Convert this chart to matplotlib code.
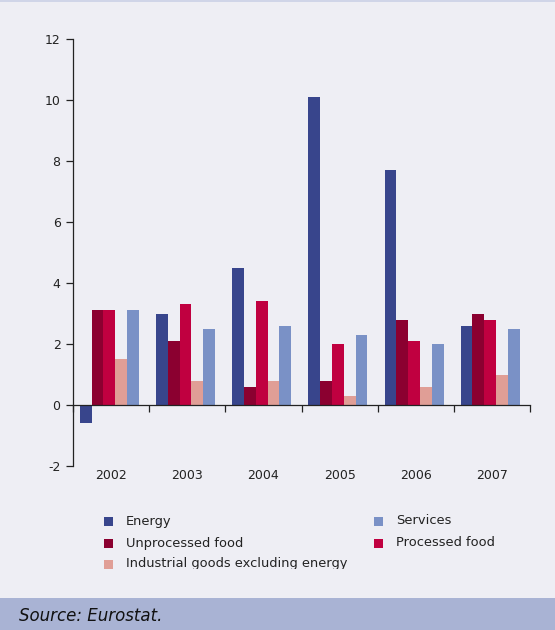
import numpy as np
import matplotlib
matplotlib.use('Agg')
import matplotlib.pyplot as plt
import matplotlib.patches as mpatches
import matplotlib.transforms as mtransforms

plt.rcParams['font.family'] = ['DejaVu Sans']

years = ['2002', '2003', '2004', '2005', '2006', '2007']
series = ['Energy', 'Unprocessed food', 'Processed food',
          'Industrial goods excluding energy', 'Services']
energy = [-0.6, 3.0, 4.5, 10.1, 7.7, 2.6]
unprocessed_food = [3.1, 2.1, 0.6, 0.8, 2.8, 3.0]
processed_food = [3.1, 3.3, 3.4, 2.0, 2.1, 2.8]
industrial_goods = [1.5, 0.8, 0.8, 0.3, 0.6, 1.0]
services = [3.1, 2.5, 2.6, 2.3, 2.0, 2.5]

colors = ['#38458c', '#8b0030', '#c00040', '#e09e96', '#7a91c6']
values = [energy, unprocessed_food, processed_food, industrial_goods, services]

BG = '#eeeef4'
SOURCE_BG = '#a9b3d4'
TXT = '#222222'

fig = plt.figure(figsize=(5.55, 6.3), dpi=100, facecolor=BG)
ax = fig.add_axes([73 / 555, 1 - 466 / 630, 457 / 555, 427 / 630])
ax.set_facecolor(BG)

# Five bars per year, each group spans one unit on x
bar_w = 0.155
offset0 = 0.09
x = np.arange(len(years))
for i, (vals, col) in enumerate(zip(values, colors)):
    ax.bar(x + offset0 + i * bar_w, vals, width=bar_w, align='edge',
           color=col, linewidth=0, zorder=2)

ax.set_xlim(0, len(years))
ax.set_ylim(-2, 12)
ax.set_yticks(range(-2, 13, 2))
ax.set_yticklabels([str(v) for v in range(-2, 13, 2)])

for s in ('top', 'right'):
    ax.spines[s].set_visible(False)
ax.spines['bottom'].set_position(('data', 0))
for s in ('left', 'bottom'):
    ax.spines[s].set_color(TXT)
    ax.spines[s].set_linewidth(0.9)
    ax.spines[s].set_zorder(3)

ax.set_xticks(range(len(years) + 1))
ax.set_xticklabels([])
ax.tick_params(axis='x', direction='out', length=5, width=0.9, color=TXT)
ax.tick_params(axis='y', direction='out', length=5, width=0.9, color=TXT,
               labelsize=9, labelcolor=TXT, pad=4)

# Year labels sit below the plot area rather than at the zero line
trans = mtransforms.blended_transform_factory(ax.transData, ax.transAxes)
for xi, yr in zip(x, years):
    ax.text(xi + 0.5, -3 / 427, yr, transform=trans, ha='center', va='top',
            fontsize=9, color=TXT)

# Legend drawn by hand in two columns
legend_rows = [(0, 0), (0, 1), (1, 1), (0, 2), (1, 0)]
col_x = [104, 374]
row_y = [521, 543, 564]
for (ci, ri), name, col in zip(legend_rows, series, colors):
    fx = col_x[ci] / 555
    fy = 1 - row_y[ri] / 630
    fig.patches.append(mpatches.Rectangle((fx, fy - 4.5 / 630), 9 / 555, 9 / 630,
                                          transform=fig.transFigure,
                                          facecolor=col, edgecolor='none'))
    fig.text(fx + 22 / 555, fy, name, ha='left', va='center',
             fontsize=9.4, color=TXT)

# Bottom strip hides the overflow of the last legend row
fig.patches.append(mpatches.Rectangle((0, 32 / 630), 1, 29 / 630,
                                      transform=fig.transFigure,
                                      facecolor=BG, edgecolor='none', zorder=5))
fig.patches.append(mpatches.Rectangle((0, 0), 1, 32 / 630,
                                      transform=fig.transFigure,
                                      facecolor=SOURCE_BG, edgecolor='none', zorder=6))
fig.text(19 / 555, 14 / 630, 'Source: Eurostat.', ha='left', va='center',
         fontsize=12, style='italic', color='#111111', zorder=7)

# Thin rule along the top edge
fig.patches.append(mpatches.Rectangle((0, 1 - 2 / 630), 1, 2 / 630,
                                      transform=fig.transFigure,
                                      facecolor='#d0d5e8', edgecolor='none'))

fig.savefig('out.png', dpi=100, facecolor=BG)
